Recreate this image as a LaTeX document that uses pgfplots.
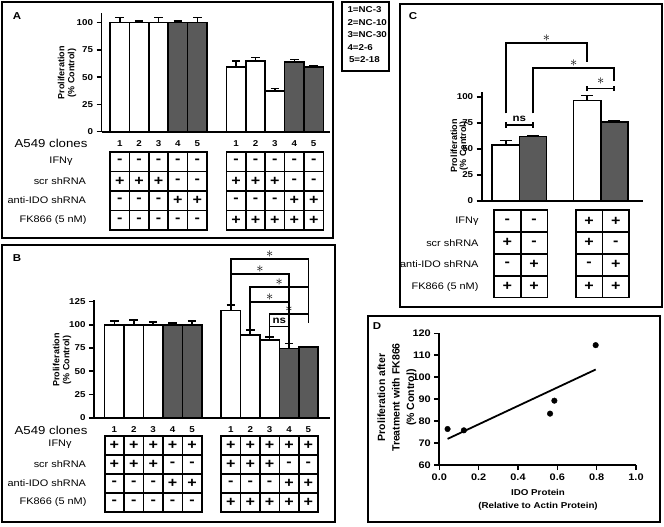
\documentclass[border=0pt]{standalone}
\usepackage{pgfplots}
\pgfplotsset{compat=1.18}
\usepackage{fontspec}
\setmainfont{Liberation Sans}[FakeStretch=1.15]
\newfontfamily\rotfont{Liberation Sans}
\definecolor{barg}{RGB}{90,90,90}
\newcommand{\fs}[1]{\fontsize{#1}{#1}\selectfont}
\newcommand{\trow}[5]{%
  \foreach \s [count=\i] in {#5} {
    \draw[line width=1.6pt] ({#1+(\i-1)*#3},#2) rectangle ++(#3,#4);
    \node[font=\bfseries\fs{14}, inner sep=0pt] at ({#1+(\i-0.5)*#3},{#2+#4/2}) {\s};
  }%
}
\tikzset{
  brk/.style={line width=1.7pt, black},
  star/.style={font=\fs{15}, anchor=base, inner sep=0pt},
}
\pgfplotsset{
  panel/.style={
    scale only axis, axis lines=left,
    axis line style={line width=1.8pt, -},
    ymin=0, tick align=outside, major tick length=5pt,
    ytick style={black, line width=1.6pt},
    xtick style={draw=none},
    /pgf/number format/assume math mode=true,
    tick label style={font=\bfseries\fs{8.5}},
    clip=false,
  },
  bars/.style={ybar, bar width=1, bar shift=0pt, draw=black, line width=1.6pt, fill=#1},
  eb/.style={error bars/.cd, y dir=plus, y explicit,
      error bar style={line width=1.6pt, black, solid},
      error mark=-, error mark options={black, rotate=90, mark size=#1, line width=1.6pt}},
}
\begin{document}
\begin{tikzpicture}
\useasboundingbox (0,0) rectangle (664pt,-527pt);
% ---------- Panel A ----------
\begin{axis}[panel, at={(101.5pt,-131.7pt)}, anchor=south west,
  width=228.5pt, height=118.7pt, xmin=0.06, xmax=11.84, ymax=108.9,
  ytick={0,25,50,75,100},
  xtick={1,2,3,4,5,7,8,9,10,11}, xticklabels={1,2,3,4,5,1,2,3,4,5}]
\addplot[bars=white, eb=4.3pt] coordinates {(1,100) +- (0,4.6) (2,100) +- (0,1.8) (3,100) +- (0,4.6) (7,59.6) +- (0,5.5) (8,64.8) +- (0,3.1) (9,37.6) +- (0,2.2)};
\addplot[bars=barg, eb=4.3pt] coordinates {(4,100) +- (0,1.8) (5,100) +- (0,4.6) (10,64.2) +- (0,2.2) (11,59.6) +- (0,0.4)};
\end{axis}
% ---------- Panel B ----------
\begin{axis}[panel, at={(94pt,-417.7pt)}, anchor=south west,
  width=236pt, height=117.7pt, xmin=-0.05, xmax=12.11, ymax=126.8,
  ytick={0,25,50,75,100,125},
  xtick={1,2,3,4,5,7,8,9,10,11}, xticklabels={1,2,3,4,5,1,2,3,4,5}]
\addplot[bars=white, eb=4.3pt] coordinates {(1,100) +- (0,4) (2,100) +- (0,5) (3,100) +- (0,3) (7,115.3) +- (0,6) (8,89) +- (0,5.5) (9,83.7) +- (0,3)};
\addplot[bars=barg, eb=4.3pt] coordinates {(4,100) +- (0,2) (5,100) +- (0,4) (10,74.7) +- (0,5.4) (11,76.2) +- (0,0.4)};
\draw[brk] (7,121) -- (7,171) -- (11,171) -- (11,102);
\draw[brk] (7,121) -- (7,154.8) -- (10,154.8) -- (10,80);
\draw[brk] (8,94.5) -- (8,140.5) -- (11,140.5) -- (11,102);
\draw[brk] (8,94.5) -- (8,124.4) -- (10,124.4) -- (10,80);
\draw[brk] (9,98.3) -- (9,111.7) -- (11,111.7) -- (11,102);
\draw[brk] (9,87) -- (9,98.3) -- (10,98.3) -- (10,80);
\node[star] at (9,172.5) {$\ast$};
\node[star] at (8.5,156.3) {$\ast$};
\node[star] at (9.5,142) {$\ast$};
\node[star] at (9,125.9) {$\ast$};
\node[star] at (10,113.2) {$\ast$};
\node[font=\bfseries\fs{10}, anchor=base, inner sep=0pt] at (9.5,101.5) {ns};
\end{axis}
% ---------- Panel C ----------
\begin{axis}[panel, at={(481.7pt,-201pt)}, anchor=south west,
  width=161.3pt, height=109.3pt, xmin=0.11, xmax=6.06, ymax=104.8,
  ytick={0,25,50,75,100}, xtick=\empty]
\addplot[bars=white, eb=6pt] coordinates {(1,53.7) +- (0,4.4) (4,96.2) +- (0,4.8)};
\addplot[bars=barg, eb=6pt] coordinates {(2,62) +- (0,0.9) (5,76) +- (0,0.7)};
\draw[brk] (1,73) -- (2,73);
\draw[brk] (1,70.3) -- (1,75.7);
\draw[brk] (2,70.3) -- (2,75.7);
\node[font=\bfseries\fs{10}, anchor=base, inner sep=0pt] at (1.5,76.5) {ns};
\draw[brk] (1,84) -- (1,151.5) -- (4,151.5) -- (4,133.5);
\draw[brk] (2,84) -- (2,127.8) -- (5,127.8) -- (5,115);
\draw[brk] (4,108) -- (5,108);
\draw[brk] (4,105.3) -- (4,110.7);
\draw[brk] (5,105.3) -- (5,110.7);
\node[star] at (2.5,153) {$\ast$};
\node[star] at (3.5,129.3) {$\ast$};
\node[star] at (4.5,111.5) {$\ast$};
\end{axis}
% ---------- Panel D ----------
\begin{axis}[at={(439.3pt,-465pt)}, anchor=south west, scale only axis,
  width=196.7pt, height=131.7pt,
  xmin=0, xmax=1, ymin=60, ymax=120,
  axis lines=left, axis line style={line width=1.8pt, -},
  tick align=outside, major tick length=5pt,
  every tick/.style={black, line width=1.6pt},
  xtick={0,0.2,0.4,0.6,0.8,1}, ytick={60,70,80,90,100,110,120},
  xticklabel style={/pgf/number format/.cd, fixed, fixed zerofill, precision=1},
  /pgf/number format/assume math mode=true,
  tick label style={font=\bfseries\fs{9.5}}, clip=false]
\addplot[only marks, mark=*, mark size=2.8pt, black] coordinates {(0.042,76.4) (0.125,75.8) (0.563,83.4) (0.585,89.3) (0.795,114.6)};
\addplot[black, line width=1.8pt, no marks] coordinates {(0.042,71.9) (0.795,103.5)};
\end{axis}
% ---------- decorations ----------
\begin{scope}[x=1pt, y=-1pt]
\draw[line width=2pt] (2,2) rectangle (333,238);
\draw[line width=2pt] (2,245) rectangle (335,522);
\draw[line width=2pt] (342,2) rectangle (389,71);
\draw[line width=2pt] (400,4) rectangle (662,307);
\draw[line width=2pt] (368,316) rectangle (660,522);
\node[font=\bfseries\fs{10}] at (17,16) {A};
\node[font=\bfseries\fs{10}] at (17,258) {B};
\node[font=\bfseries\fs{10}] at (413,16) {C};
\node[font=\bfseries\fs{10}] at (377,326) {D};
% legend
\node[anchor=west, font=\bfseries\fs{8.5}] at (344,10) {1=NC-3};
\node[anchor=west, font=\bfseries\fs{8.5}] at (344,22.7) {2=NC-10};
\node[anchor=west, font=\bfseries\fs{8.5}] at (344,35) {3=NC-30};
\node[anchor=west, font=\bfseries\fs{8.5}] at (344,47.3) {4=2-6};
\node[anchor=west, font=\bfseries\fs{8.5}] at (345.5,60) {5=2-18};
% y labels
\node[rotate=90, align=center, font=\rotfont\bfseries\fontsize{9}{10}\selectfont] at (67,73) {Proliferation\\(\% Control)};
\node[rotate=90, align=center, font=\rotfont\bfseries\fontsize{9}{10}\selectfont] at (62,360) {Proliferation\\(\% Control)};
\node[rotate=90, align=center, font=\rotfont\bfseries\fontsize{9}{9}\selectfont] at (459.3,146) {Proliferation\\(\% Control)};
\node[rotate=90, align=center, font=\rotfont\bfseries\fontsize{10.5}{14.5}\selectfont] at (397,397.5) {Proliferation after\\Treatment with FK866\\(\% Control)};
\node[align=center, font=\bfseries\fontsize{8.5}{12.5}\selectfont] at (538,500) {IDO Protein\\(Relative to Actin Protein)};
% Panel A table
\node[font=\fs{11.5}] at (51,143) {A549 clones};
\node[font=\fs{9.5}] at (61,161.7) {IFNγ};
\node[font=\fs{9.5}, anchor=east] at (89.5,181.5) {scr shRNA};
\node[font=\fs{9.5}, anchor=east] at (89.5,200.5) {anti-IDO shRNA};
\node[font=\fs{9.5}, anchor=east] at (90,220) {FK866 (5 nM)};
\trow{110}{152}{19.4}{19.5}{-,-,-,-,-}
\trow{110}{171.5}{19.4}{19.5}{+,+,+,-,-}
\trow{110}{191}{19.4}{19.5}{-,-,-,+,+}
\trow{110}{210.5}{19.4}{19.5}{-,-,-,-,-}
\trow{226.4}{152}{19.4}{19.5}{-,-,-,-,-}
\trow{226.4}{171.5}{19.4}{19.5}{+,+,+,-,-}
\trow{226.4}{191}{19.4}{19.5}{-,-,-,+,+}
\trow{226.4}{210.5}{19.4}{19.5}{+,+,+,+,+}
% Panel B table
\node[font=\fs{11.5}] at (51,430) {A549 clones};
\node[font=\fs{9.5}] at (60,444) {IFNγ};
\node[font=\fs{9.5}, anchor=east] at (89.5,464) {scr shRNA};
\node[font=\fs{9.5}, anchor=east] at (89.5,483.5) {anti-IDO shRNA};
\node[font=\fs{9.5}, anchor=east] at (90,502.5) {FK866 (5 nM)};
\trow{104.7}{436}{19.4}{19}{+,+,+,+,+}
\trow{104.7}{455}{19.4}{19}{+,+,+,-,-}
\trow{104.7}{474}{19.4}{19}{-,-,-,+,+}
\trow{104.7}{493}{19.4}{19}{-,-,-,-,-}
\trow{221.1}{436}{19.4}{19}{+,+,+,+,+}
\trow{221.1}{455}{19.4}{19}{+,+,+,-,-}
\trow{221.1}{474}{19.4}{19}{-,-,-,+,+}
\trow{221.1}{493}{19.4}{19}{+,+,+,+,+}
% Panel C table
\node[font=\fs{9.5}, anchor=east] at (482,221.5) {IFNγ};
\node[font=\fs{9.5}, anchor=east] at (482,243.3) {scr shRNA};
\node[font=\fs{9.5}, anchor=east] at (482,264.5) {anti-IDO shRNA};
\node[font=\fs{9.5}, anchor=east] at (482,286.7) {FK866 (5 nM)};
\trow{494}{210}{26.7}{21.9}{-,-}
\trow{494}{231.9}{26.7}{21.9}{+,-}
\trow{494}{253.8}{26.7}{21.9}{-,+}
\trow{494}{275.7}{26.7}{21.9}{+,+}
\trow{575.7}{210}{26.7}{21.9}{+,+}
\trow{575.7}{231.9}{26.7}{21.9}{+,-}
\trow{575.7}{253.8}{26.7}{21.9}{-,+}
\trow{575.7}{275.7}{26.7}{21.9}{+,+}
\end{scope}
\end{tikzpicture}
\end{document}
